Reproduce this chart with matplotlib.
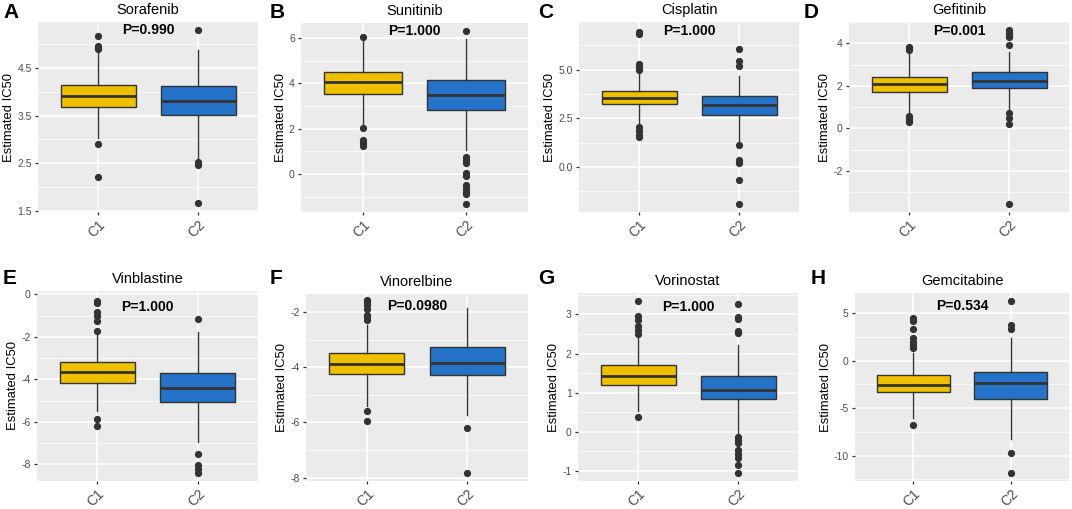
import matplotlib
matplotlib.use("Agg")
import matplotlib.pyplot as plt
from matplotlib.ticker import MultipleLocator, FormatStrFormatter

plt.rcParams['font.family'] = ['Liberation Sans', 'DejaVu Sans']

# panel data: (q1, median, q3, whisker low, whisker high, outliers)
drugs = ['Sorafenib', 'Sunitinib', 'Cisplatin', 'Gefitinib',
         'Vinblastine', 'Vinorelbine', 'Vorinostat', 'Gemcitabine']
letters = ['A', 'B', 'C', 'D', 'E', 'F', 'G', 'H']
pvals = ['P=0.990', 'P=1.000', 'P=1.000', 'P=0.001',
         'P=1.000', 'P=0.0980', 'P=1.000', 'P=0.534']
groups = ['C1', 'C2']

c1_stats = [
    (3.69, 3.905, 4.15, 3.03, 4.87, [5.17, 4.97, 4.92, 4.90, 2.91, 2.20]),
    (3.51, 4.07, 4.51, 2.09, 5.95, [6.04, 2.03, 1.50, 1.35, 1.25]),
    (3.24, 3.54, 3.90, 2.14, 4.79, [5.0, 5.1, 5.2, 5.3, 6.93, 6.85, 2.05, 1.85, 1.65, 1.55]),
    (1.73, 2.07, 2.43, 0.69, 3.50, [3.83, 3.78, 3.70, 0.60, 0.50, 0.35, 0.30]),
    (-4.16, -3.66, -3.19, -5.50, -1.75, [-1.70, -1.25, -1.0, -0.81, -0.42, -0.30, -5.84, -6.20]),
    (-4.24, -3.90, -3.48, -5.41, -2.46, [-1.55, -1.65, -1.75, -1.90, -2.10, -2.20, -2.30, -5.59, -5.95]),
    (1.19, 1.43, 1.70, 0.53, 2.40, [3.34, 2.97, 2.87, 2.70, 2.60, 2.50, 0.38]),
    (-3.32, -2.54, -1.53, -6.02, 0.82, [1.35, 1.7, 2.0, 2.4, 3.39, 4.2, 4.5, -6.82]),
]
c2_stats = [
    (3.51, 3.81, 4.125, 2.60, 4.87, [5.31, 2.53, 2.45, 1.65]),
    (2.83, 3.48, 4.13, 1.06, 5.96, [6.32, 0.76, 0.60, 0.50, 0.07, -0.08, -0.49, -0.64, -0.78, -0.89, -1.30]),
    (2.65, 3.17, 3.63, 1.28, 4.66, [5.17, 5.43, 6.08, 1.13, 0.34, 0.20, -0.68, -1.88]),
    (1.88, 2.23, 2.67, 0.82, 3.60, [3.94, 4.30, 4.40, 4.50, 4.61, 0.70, 0.50, 0.20, -3.54]),
    (-5.06, -4.39, -3.72, -6.94, -1.78, [-1.17, -7.53, -8.03, -8.23, -8.42]),
    (-4.29, -3.84, -3.27, -5.73, -1.86, [-6.19, -7.84]),
    (0.84, 1.07, 1.43, -0.06, 2.23, [2.53, 2.58, 2.89, 2.94, 3.26, -0.13, -0.20, -0.30, -0.47, -0.57, -0.68, -0.85, -1.06]),
    (-4.05, -2.33, -1.14, -8.30, 2.40, [3.3, 3.8, 6.33, -9.7, -11.88]),
]

y_limits = [(1.47, 5.47), (-1.67, 6.66), (-2.31, 7.45), (-3.93, 5.0),
            (-8.78, 0.16), (-8.12, -1.35), (-1.26, 3.55), (-12.68, 7.14)]
y_steps = [1.0, 2, 2.5, 2, 2, 2, 1, 5]
y_offsets = [0.5, 0, 0, 0, 0, 0, 0, 0]
y_fmt = ['%.1f', '%d', '%.1f', '%d', '%d', '%d', '%d', '%d']
p_y = [0.958, 0.96, 0.955, 0.955, 0.915, 0.935, 0.925, 0.93]

# axes boxes in pixels: left, top, right, bottom
boxes_px = [(38, 22, 258, 212), (301, 23, 528, 212), (579, 22, 799, 212), (849, 22, 1069, 212),
            (37, 291, 258, 481), (306, 294, 528, 481), (578, 293, 798, 481), (855, 293, 1069, 481)]
letter_px = [(3, 13), (270, 13), (538, 13), (804, 13),
             (3, 279), (270, 279), (538, 279), (811, 279)]

colors = ['#EFC000', '#2473C9']
W, H = 1072, 509

fig = plt.figure(figsize=(W / 100, H / 100), dpi=100)

for i in range(8):
    l, t, r, b = boxes_px[i]
    ax = fig.add_axes([l / W, 1 - b / H, (r - l) / W, (b - t) / H])
    ax.set_facecolor('#EBEBEB')
    for s in ax.spines.values():
        s.set_visible(False)

    stats = []
    for g, st in zip(groups, [c1_stats[i], c2_stats[i]]):
        q1, med, q3, lo, hi, fl = st
        stats.append(dict(label=g, q1=q1, med=med, q3=q3, whislo=lo, whishi=hi, fliers=fl))

    bp = ax.bxp(stats, positions=[1, 2], widths=0.75, patch_artist=True,
                showcaps=False,
                boxprops=dict(edgecolor='#333333', linewidth=1.0),
                medianprops=dict(color='#333333', linewidth=2.0),
                whiskerprops=dict(color='#333333', linewidth=1.0),
                flierprops=dict(marker='o', markersize=4.2, markerfacecolor='#333333',
                                markeredgecolor='#333333'))
    for patch, c in zip(bp['boxes'], colors):
        patch.set_facecolor(c)
        patch.set_zorder(3)
    for k in ['medians', 'whiskers', 'fliers']:
        for a in bp[k]:
            a.set_zorder(3)

    ax.set_xlim(0.4, 2.6)
    ax.set_ylim(*y_limits[i])
    ax.yaxis.set_major_locator(MultipleLocator(y_steps[i], offset=y_offsets[i]))
    ax.yaxis.set_minor_locator(MultipleLocator(y_steps[i] / 2))
    ax.yaxis.set_major_formatter(FormatStrFormatter(y_fmt[i]))
    ax.grid(True, which='major', color='white', linewidth=1.1, zorder=0)
    ax.grid(True, which='minor', axis='y', color='white', linewidth=0.5, zorder=0)
    ax.set_axisbelow(True)
    ax.tick_params(which='minor', length=0)
    ax.tick_params(which='major', length=2.5, width=0.9, color='#333333',
                   labelcolor='#4D4D4D', labelsize=7.5, pad=2)
    ax.tick_params(axis='x', pad=1.5)
    ax.set_xticks([1, 2])
    ax.set_xticklabels(groups, rotation=45, ha='right', rotation_mode='anchor',
                       fontsize=10, color='#4D4D4D')
    ax.set_ylabel('Estimated IC50', fontsize=9.4, color='black', labelpad=1.5)
    ax.set_title(drugs[i], fontsize=10.5, pad=6)
    ax.text(1.5, p_y[i], pvals[i], transform=ax.get_xaxis_transform(),
            ha='center', va='center', fontsize=10, fontweight='bold', zorder=5)

    lx, ly = letter_px[i]
    fig.text(lx / W, 1 - ly / H, letters[i], fontsize=15, fontweight='bold',
             ha='left', va='center')

fig.savefig('out.png', dpi=100)
